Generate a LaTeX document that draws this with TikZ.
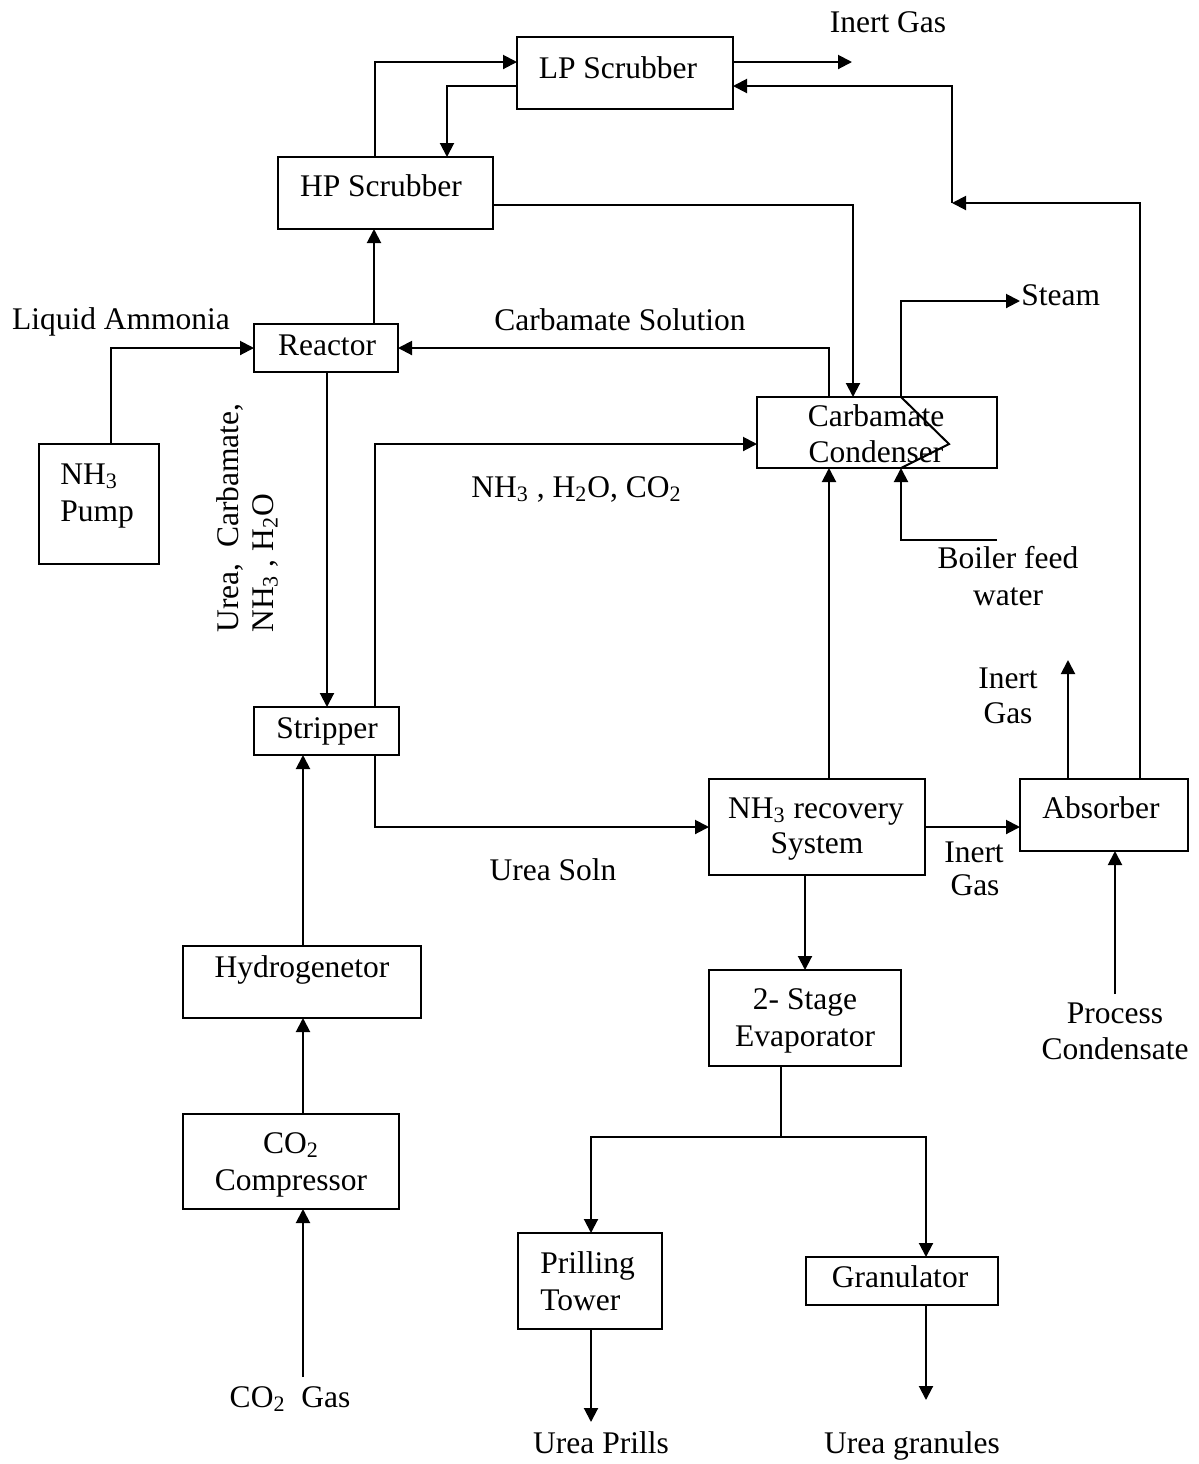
\documentclass[tikz,border=0pt]{standalone}
\usepackage{fontspec}
\setmainfont{Liberation Serif}
\usetikzlibrary{arrows.meta}
\begin{document}
\begin{tikzpicture}[x=0.5pt,y=-0.5pt,
  font=\fontsize{15.75pt}{18.5pt}\selectfont,
  box/.style={draw, line width=1pt, inner sep=0pt, outer sep=0pt},
  lbl/.style={anchor=base, inner sep=0pt},
  lblw/.style={anchor=base west, inner sep=0pt},
  flow/.style={line width=1pt, -{Triangle[length=7pt,width=7pt]}},
  pipe/.style={line width=1pt}]
\useasboundingbox (0,0) rectangle (1199,1464);

% boxes
\node[box, minimum width=108pt, minimum height=36pt] (lp) at (625,73) {};
\node[box, minimum width=107.5pt, minimum height=36pt] (hp) at (385.5,193) {};
\node[box, minimum width=72pt, minimum height=24pt] (reac) at (326,348) {};
\node[box, minimum width=60pt, minimum height=60pt] (pump) at (99,504) {};
\node[box, minimum width=120pt, minimum height=35.5pt] (cc) at (877,432.5) {};
\node[box, minimum width=72.5pt, minimum height=24pt] (strip) at (326.5,731) {};
\node[box, minimum width=108pt, minimum height=48pt] (rec) at (817,827) {};
\node[box, minimum width=84pt, minimum height=36pt] (abs) at (1104,815) {};
\node[box, minimum width=119pt, minimum height=36pt] (hyd) at (302,982) {};
\node[box, minimum width=108pt, minimum height=47.5pt] (comp) at (291,1161.5) {};
\node[box, minimum width=96pt, minimum height=48pt] (evap) at (805,1018) {};
\node[box, minimum width=72pt, minimum height=48pt] (prill) at (590,1281) {};
\node[box, minimum width=96pt, minimum height=24pt] (gran) at (902,1281) {};

% labels
\node[lbl] (tlp) at (618,78) {LP Scrubber};
\node[lbl] (thp) at (381,196) {HP Scrubber};
\node[lbl] (tinert1) at (888,32) {Inert Gas};
\node[lbl] (tliq) at (121,329) {Liquid Ammonia};
\node[lbl] (treac) at (327,355) {Reactor};
\node[lblw] (tpump1) at (60,484) {NH\textsubscript{3}};
\node[lblw] (tpump2) at (60,521) {Pump};
\node[lbl] (tcs) at (620,330) {Carbamate Solution};
\node[lblw] (tsteam) at (1021,305) {Steam};
\node[lbl] (tcc1) at (876,426) {Carbamate};
\node[lbl] (tcc2) at (876,462) {Condenser};
\node[lblw] (tmix) at (471,497) {NH\textsubscript{3} , H\textsubscript{2}O, CO\textsubscript{2}};
\node[lbl] (tbfw1) at (1008,568) {Boiler feed};
\node[lbl] (tbfw2) at (1008,605) {water};
\node[lblw, rotate=90] (tu1) at (238,633) {Urea,\ \ Carbamate,};
\node[lblw, rotate=90] (tu2) at (273,633) {NH\textsubscript{3} , H\textsubscript{2}O};
\node[lbl] (tstrip) at (327,738) {Stripper};
\node[lbl] (tinert2a) at (1008,688) {Inert};
\node[lbl] (tinert2b) at (1008,723) {Gas};
\node[lbl] (trec1) at (816,818) {NH\textsubscript{3} recovery};
\node[lbl] (trec2) at (817,853) {System};
\node[lbl] (tabs) at (1101,818) {Absorber};
\node[lbl] (tinert3a) at (974,862) {Inert};
\node[lbl] (tinert3b) at (975,895) {Gas};
\node[lbl] (tsoln) at (553,880) {Urea Soln};
\node[lbl] (thyd) at (302,977) {Hydrogenetor};
\node[lbl] (tevap1) at (805,1009) {2- Stage};
\node[lbl] (tevap2) at (805,1046) {Evaporator};
\node[lbl] (tpc1) at (1115,1023) {Process};
\node[lbl] (tpc2) at (1115,1059) {Condensate};
\node[lbl] (tco2a) at (291,1153) {CO\textsubscript{2}};
\node[lbl] (tco2b) at (291,1190) {Compressor};
\node[lbl] (tgas) at (290,1407) {CO\textsubscript{2}\ \ Gas};
\node[lblw] (tpr1) at (540,1273) {Prilling};
\node[lblw] (tpr2) at (540,1310) {Tower};
\node[lbl] (tgran) at (900,1287) {Granulator};
\node[lbl] (tprills) at (601,1453) {Urea Prills};
\node[lbl] (tgranules) at (912,1453) {Urea granules};

% free ends
\coordinate (inertout) at (852,62);
\coordinate (rj) at (952,203);
\coordinate (steamout) at (1020,301);
\coordinate (bfw) at (997,540);
\coordinate (inertup) at (1068,660);
\coordinate (pcin) at (1115,994);
\coordinate (co2in) at (303,1377);
\coordinate (split) at (781,1137);
\coordinate (prillsout) at (591,1422);
\coordinate (granout) at (926,1400);

% connectors
\draw[flow] (375,0 |- hp.north) |- (lp.west |- 0,62);
\draw[flow] (lp.west |- 0,86) -| (447,0 |- hp.north);
\draw[flow] (lp.east |- 0,62) -- (inertout);
\draw[flow] (1140,0 |- abs.north) |- (rj);
\draw[flow] (rj) |- (lp.east |- 0,86);
\draw[flow] (hp.east |- 0,205) -| (853,0 |- cc.north);
\draw[flow] (374,0 |- reac.north) -- (374,0 |- hp.south);
\draw[flow] (829,0 |- cc.north) |- (reac.east);
\draw[flow] (111,0 |- pump.north) |- (reac.west);
\draw[flow] (327,0 |- reac.south) -- (327,0 |- strip.north);
\draw[flow] (375,0 |- strip.north) |- (cc.west |- 0,444);
\draw[flow] (375,0 |- strip.south) |- (rec.west);
\draw[flow] (303,0 |- hyd.north) -- (303,0 |- strip.south);
\draw[flow] (303,0 |- comp.north) -- (303,0 |- hyd.south);
\draw[flow] (co2in) -- (303,0 |- comp.south);
\draw[flow] (829,0 |- rec.north) -- (829,0 |- cc.south);
\draw[flow] (rec.east) -- (abs.west |- rec.east);
\draw[flow] (1068,0 |- abs.north) -- (inertup);
\draw[flow] (pcin) -- (1115,0 |- abs.south);
\draw[flow] (bfw) -| (901,0 |- cc.south);
\draw[flow] (901,0 |- cc.north) |- (steamout);
\draw[pipe] (901,0 |- cc.north) -- (949,444) -- (901,0 |- cc.south);
\draw[flow] (805,0 |- rec.south) -- (805,0 |- evap.north);
\draw[pipe] (781,0 |- evap.south) -- (split);
\draw[flow] (split) -| (591,0 |- prill.north);
\draw[flow] (split) -| (926,0 |- gran.north);
\draw[flow] (591,0 |- prill.south) -- (prillsout);
\draw[flow] (926,0 |- gran.south) -- (granout);
\end{tikzpicture}
\end{document}
